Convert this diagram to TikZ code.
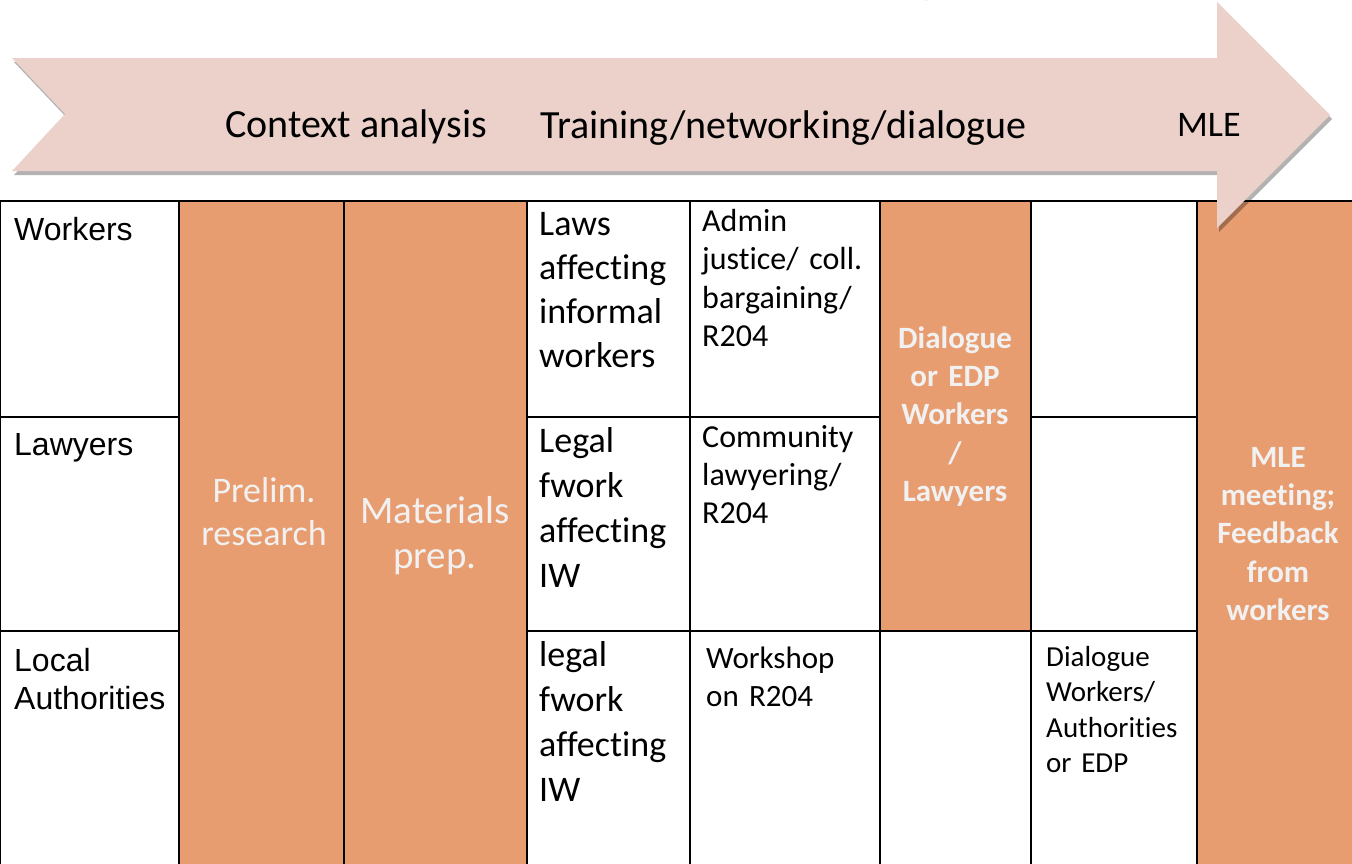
\documentclass[tikz,border=0pt]{standalone}
\usepackage{fontspec}
\setmainfont{Carlito}[Ligatures=NoCommon]
\newfontfamily\arialf{Liberation Sans}
\usetikzlibrary{shadows}
\definecolor{orangefill}{HTML}{E89D71}
\definecolor{arrowfill}{HTML}{EBD1C9}
\definecolor{lighttext}{HTML}{F1F1F1}
\definecolor{titleorange}{HTML}{F57A28}
\tikzset{
  cell/.style={draw=black, line width=2pt, fill=white},
  ocell/.style={cell, fill=orangefill},
  rowlab/.style={anchor=base west, inner sep=0pt, text width=160pt, align=left, font=\arialf\fontsize{32}{38}\selectfont},
  bigtxt/.style={anchor=base west, inner sep=0pt, text width=150pt, align=left, font=\fontsize{36}{44.3}\selectfont},
  midtxt/.style={anchor=base west, inner sep=0pt, text width=175pt, align=left, font=\fontsize{32}{38.5}\selectfont},
  boldtxt/.style={anchor=base, inner sep=0pt, text width=150pt, align=center, text=lighttext, font=\bfseries\fontsize{31}{38.4}\selectfont},
  lighttxt/.style={anchor=base, inner sep=0pt, text width=165pt, align=center, text=lighttext, font=\fontsize{36}{43}\selectfont},
  arrowtxt/.style={anchor=base west, inner sep=0pt, font=\fontsize{40}{48}\selectfont},
  flow/.style={fill=arrowfill, drop shadow={shadow xshift=2pt, shadow yshift=-4pt, fill=black, opacity=0.3}}
}
\begin{document}
\begin{tikzpicture}[x=1pt,y=-1pt]
\useasboundingbox (0,0) rectangle (1352,863);
\clip (0,0) rectangle (1352,863);
% title fragment
\node[anchor=base west, inner sep=0pt, text=titleorange, font=\bfseries\fontsize{60}{70}\selectfont] (ttl) at (913,-10) {gy};
% table cells
\draw[cell] (0,201) rectangle (179,417);
\draw[cell] (0,417) rectangle (179,631);
\draw[cell] (0,631) rectangle (179,880);
\draw[ocell] (179,201) rectangle (344,880);
\draw[ocell] (344,201) rectangle (527,880);
\draw[cell] (527,201) rectangle (690,417);
\draw[cell] (527,417) rectangle (690,631);
\draw[cell] (527,631) rectangle (690,880);
\draw[cell] (690,201) rectangle (880,417);
\draw[cell] (690,417) rectangle (880,631);
\draw[cell] (690,631) rectangle (880,880);
\draw[ocell] (880,201) rectangle (1031,631);
\draw[cell] (880,631) rectangle (1031,880);
\draw[cell] (1031,201) rectangle (1197,417);
\draw[cell] (1031,417) rectangle (1197,631);
\draw[cell] (1031,631) rectangle (1197,880);
\draw[ocell] (1197,201) rectangle (1370,880);
% arrow
\path[flow] (12,58) -- (1217,58) -- (1217,2) -- (1330,115) -- (1217,228) -- (1217,171) -- (12,171) -- (65,114) -- cycle;
\node[arrowtxt] (ctx) at (225,137) {Context analysis};
\node[arrowtxt] (trn) at (540,138) {Training/networking/dialogue};
\node[arrowtxt, font=\fontsize{36}{44}\selectfont] (mle) at (1177,136) {MLE};
% row labels
\node[rowlab] (wk) at (14,240) {Workers};
\node[rowlab] (lw) at (14,455) {Lawyers};
\node[rowlab] (la) at (14,671) {Local\\Authorities};
% orange columns
\node[lighttxt] (pre) at (264,502) {Prelim.\\research};
\node[lighttxt, font=\fontsize{39}{45}\selectfont] (mat) at (435,523) {Materials\\prep.};
% column 4
\node[bigtxt] (l1) at (539,235) {Laws\\affecting\\informal\\workers};
\node[bigtxt, font=\fontsize{36}{45}\selectfont] (l2) at (539,452) {Legal\\fwork\\affecting\\IW};
\node[bigtxt, font=\fontsize{36}{45}\selectfont] (l3) at (539,666) {legal\\fwork\\affecting\\IW};
% column 5
\node[midtxt] (a1) at (702,231) {Admin\\justice/ coll.\\bargaining/\\R204};
\node[midtxt, font=\fontsize{32}{38}\selectfont] (a2) at (702,447) {Community\\lawyering/\\R204};
\node[midtxt, font=\fontsize{31}{38}\selectfont] (a3) at (706,668) {Workshop\\on R204};
% column 6, 7, 8
\node[boldtxt] (dl) at (955,348) {Dialogue\\or EDP\\Workers\\/\\Lawyers};
\node[midtxt, font=\fontsize{29}{35.5}\selectfont, text width=150pt] (dw) at (1046,666) {Dialogue\\Workers/\\Authorities\\or EDP};
\node[boldtxt] (ml) at (1278,467) {MLE\\meeting;\\Feedback\\from\\workers};
\end{tikzpicture}
\end{document}
